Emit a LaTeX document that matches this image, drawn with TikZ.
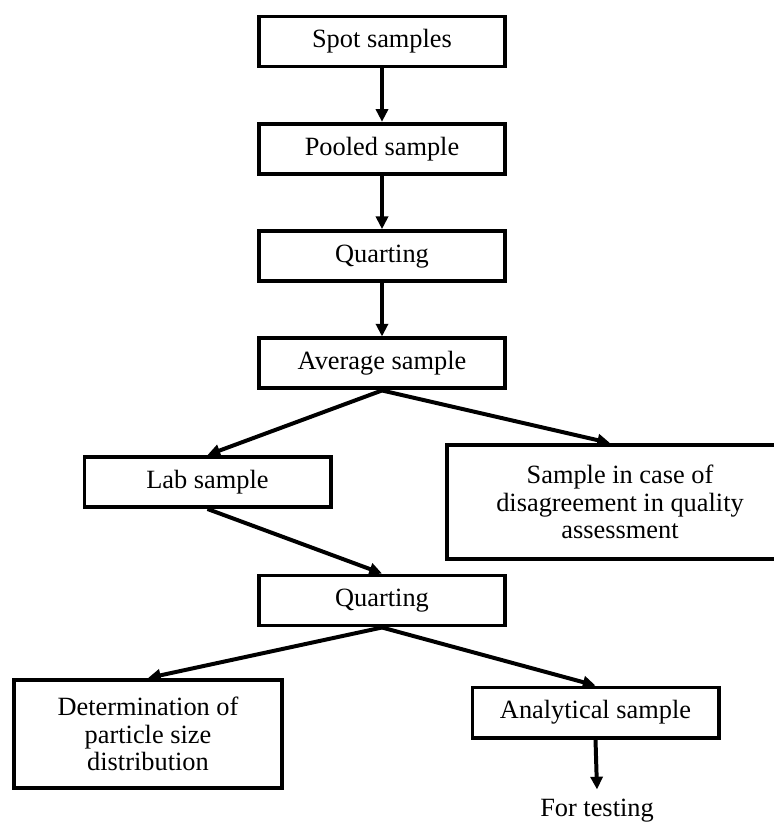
\documentclass[tikz,border=0pt]{standalone}
\usepackage{fontspec}
\setmainfont{Liberation Serif}
\usetikzlibrary{positioning,arrows.meta}
\tikzset{
  stagebox/.style={rectangle,draw=black,line width=3.4pt,align=center,minimum width=7.38cm,minimum height=1.5cm,font=\fontsize{22.5pt}{23.5pt}\selectfont},
  widebox/.style={stagebox,minimum width=8.04cm,minimum height=3.24cm},
  endlabel/.style={inner sep=0pt,outer sep=0.3cm,font=\fontsize{22.5pt}{23.5pt}\selectfont},
  link/.style={-{Triangle[length=3.8mm,width=3.6mm]},line width=3.4pt}
}
\begin{document}
\begin{tikzpicture}[x=0.03cm,y=-0.03cm,node distance=1.6cm]
  \useasboundingbox (0,0) rectangle (773,823);
  \node[stagebox] (spot) at (382,41.5) {Spot samples};
  \node[stagebox,below=of spot] (pooled) {Pooled sample};
  \node[stagebox,below=of pooled] (quart1) {Quarting};
  \node[stagebox,below=of quart1] (average) {Average sample};
  \node[stagebox] (lab) at (207.5,482) {Lab sample};
  % right edge runs off the page, as in the original
  \node[widebox,minimum width=10.4cm,minimum height=3.42cm] (dispute) at (620,502) {Sample in case of\\disagreement in quality\\assessment};
  \node[stagebox] (quart2) at (382,600.5) {Quarting};
  \node[widebox] (particle) at (148,734) {Determination of\\particle size\\distribution};
  \node[stagebox] (analytical) at (595.5,712.5) {Analytical sample};
  \node[endlabel] (testing) at (597,811) {For testing};
  \draw[link] (spot) -- (pooled);
  \draw[link] (pooled) -- (quart1);
  \draw[link] (quart1) -- (average);
  \draw[link] (average.south) -- (lab.north);
  \draw[link] (average.south) -- ([xshift=-0.3cm]dispute.north);
  \draw[link] (lab.south) -- (quart2.north);
  \draw[link] (quart2.south) -- (particle.north);
  \draw[link] (quart2.south) -- (analytical.north);
  \draw[link] (analytical.south) -- (testing.north);
\end{tikzpicture}
\end{document}
